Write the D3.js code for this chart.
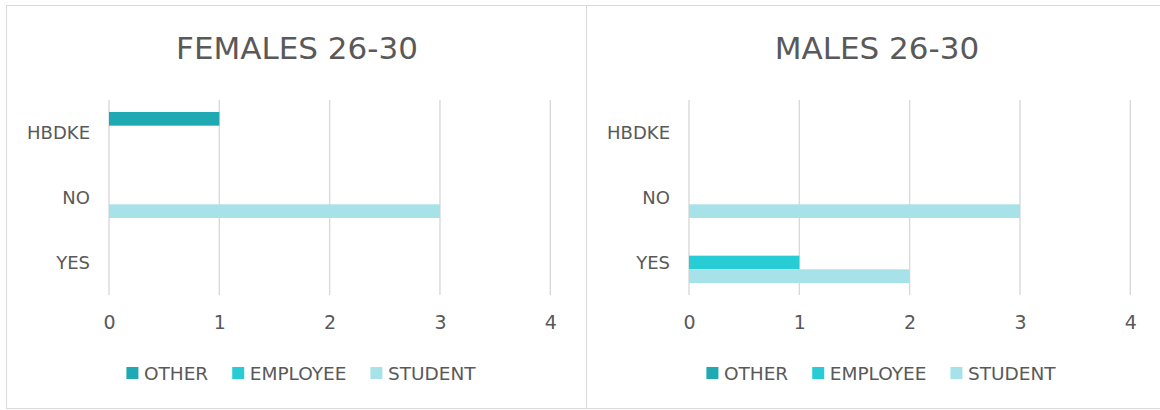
<!DOCTYPE html>
<html>
<head>
<meta charset="utf-8">
<script src="https://cdn.jsdelivr.net/npm/d3@7"></script>
<style>
  html, body { margin: 0; padding: 0; background: #ffffff; }
  svg { display: block; }
  text { font-family: "DejaVu Sans", sans-serif; fill: #595959; }
</style>
</head>
<body>
<svg id="chart" width="1160" height="410"></svg>
<script>
// Answers per group, split by occupation
const categories = ["HBDKE", "NO", "YES"];
const seriesNames = ["OTHER", "EMPLOYEE", "STUDENT"];
const seriesColors = ["#1FAAB3", "#27CCD5", "#A6E2E7"];

const femalesOther    = [1, 0, 0];
const femalesEmployee = [0, 0, 0];
const femalesStudent  = [0, 3, 0];

const malesOther    = [0, 0, 0];
const malesEmployee = [0, 0, 1];
const malesStudent  = [0, 3, 2];

const xTicks = [0, 1, 2, 3, 4];

const panels = [
  { title: "FEMALES 26-30", series: [femalesOther, femalesEmployee, femalesStudent] },
  { title: "MALES 26-30",   series: [malesOther, malesEmployee, malesStudent] }
];

const svg = d3.select("#chart");
const panelW = 580, panelTop = 5, panelBottom = 408, panelLeft = 6;

panels.forEach((p, i) => {
  const ox = panelLeft + i * panelW;
  const g = svg.append("g").attr("transform", `translate(${ox},0)`);

  // frame
  g.append("rect")
    .attr("x", 0.5).attr("y", panelTop + 0.5)
    .attr("width", panelW).attr("height", panelBottom - panelTop)
    .attr("fill", "#fff").attr("stroke", "#d9d9d9").attr("stroke-width", 1);

  const x = d3.scaleLinear().domain([0, 4]).range([103, 544.3]);
  const y = d3.scaleBand().domain(categories).range([100, 295]);
  const ySub = d3.scaleBand().domain(seriesNames).range([12, 53]);

  // title
  g.append("text")
    .attr("x", 291).attr("y", 58.5)
    .attr("text-anchor", "middle")
    .attr("font-size", 31)
    .text(p.title);

  // vertical gridlines
  g.append("g").selectAll("line").data(xTicks).join("line")
    .attr("x1", d => x(d)).attr("x2", d => x(d))
    .attr("y1", 100).attr("y2", 295)
    .attr("stroke", "#d9d9d9").attr("stroke-width", 1.4);

  // x tick labels
  const xAxis = g.append("g").attr("transform", "translate(0,315)")
    .call(d3.axisBottom(x).tickValues(xTicks).tickSize(0).tickPadding(0).tickFormat(d3.format("d")));
  xAxis.select(".domain").remove();
  xAxis.selectAll("text").attr("font-size", 19).attr("font-family", "DejaVu Sans").attr("fill", "#595959").attr("dy", "0.71em");

  // category labels
  const yAxis = g.append("g").attr("transform", "translate(84,1)")
    .call(d3.axisLeft(y).tickSize(0).tickPadding(0));
  yAxis.select(".domain").remove();
  yAxis.selectAll("text").attr("font-size", 18).attr("font-family", "DejaVu Sans").attr("fill", "#595959");

  // bars
  p.series.forEach((vals, si) => {
    g.append("g").selectAll("rect").data(vals).join("rect")
      .attr("x", x(0))
      .attr("y", (d, ci) => y(categories[ci]) + ySub(seriesNames[si]))
      .attr("width", d => x(d) - x(0))
      .attr("height", ySub.bandwidth())
      .attr("fill", seriesColors[si]);
  });

  // legend
  const leg = g.append("g");
  let cx = 0;
  seriesNames.forEach((name, si) => {
    const it = leg.append("g");
    it.append("rect").attr("x", 0).attr("y", 367 - 5).attr("width", 12).attr("height", 12).attr("fill", seriesColors[si]);
    const t = it.append("text").attr("x", 17.5).attr("y", 380 - 5).attr("font-size", 18.5).text(name);
    const w = 17.5 + t.node().getComputedTextLength();
    it.attr("transform", `translate(${cx},5)`);
    cx += w + 24;
  });
  const total = cx - 24;
  leg.attr("transform", `translate(${295 - total / 2},0)`);
});
</script>
</body>
</html>
